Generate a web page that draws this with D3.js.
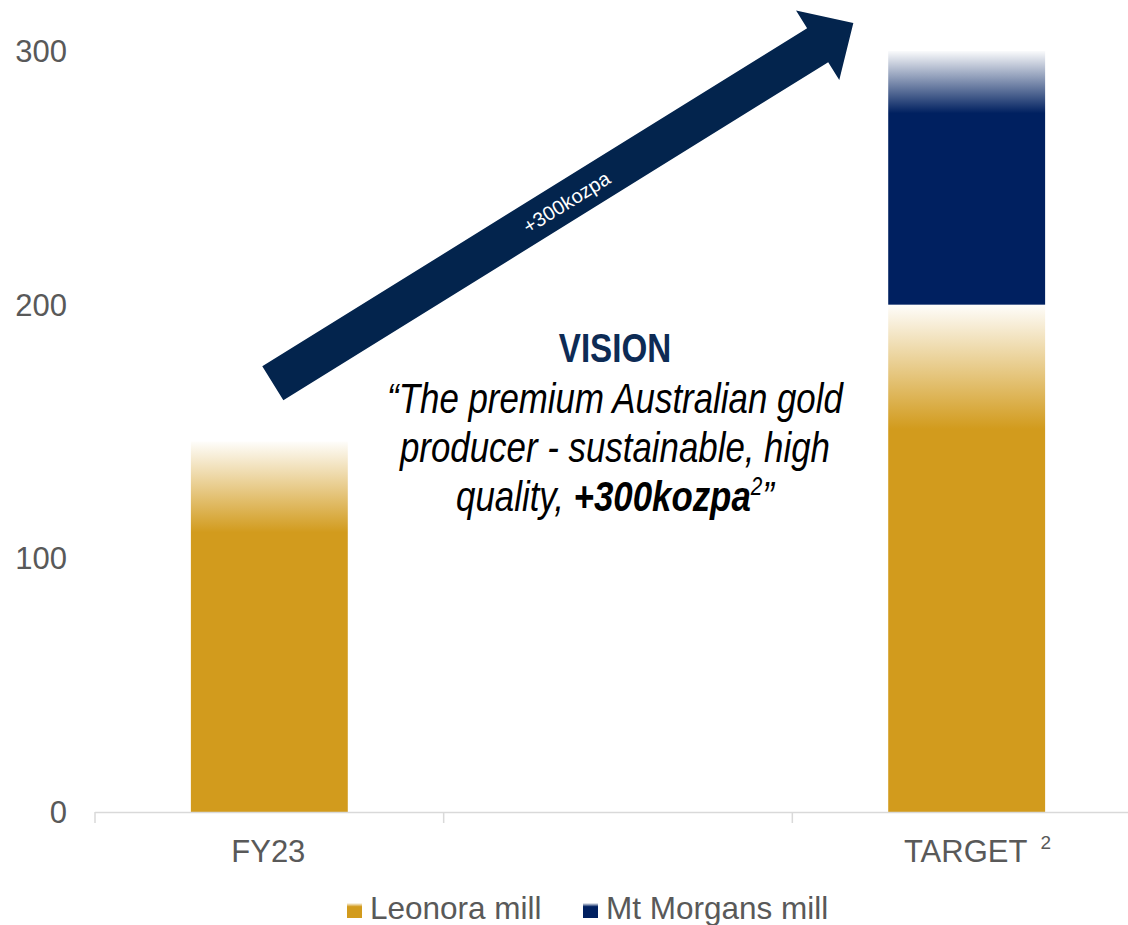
<!DOCTYPE html>
<html>
<head>
<meta charset="utf-8">
<script src="https://cdn.jsdelivr.net/npm/d3@7"></script>
<style>
  html, body { margin: 0; padding: 0; background: #fff; }
  svg { display: block; font-family: "Liberation Sans", Arial, sans-serif; }
</style>
</head>
<body>
<svg id="chart" width="1128" height="925"></svg>
<script>
// ---- data ----
const categories = ["FY23", "", "TARGET"];
const categoryNotes = ["", "", "2"];
const seriesNames = ["Leonora mill", "Mt Morgans mill"];
const leonora = [146, 0, 200];
const mtMorgans = [0, 0, 100];
const yTicks = [0, 100, 200, 300];
const seriesColors = ["#D29B1D", "#002060"];

// growth arrow annotation, anchored in data space
const arrowLabel = "+300kozpa";
const arrowFrom = { cat: "FY23", pos: 0.51, value: 169 };
const arrowTo = { cat: "TARGET", pos: 0.175, value: 311 };

// vision statement
const visionTitle = "VISION";
const visionLines = [
  [{ t: "\u201CThe premium Australian gold" }],
  [{ t: "producer - sustainable, high" }],
  [{ t: "quality, " }, { t: "+300kozpa", bold: true }, { t: "2", sup: true }, { t: "\u201D" }]
];

// ---- layout ----
const plot = { left: 95, right: 1141, top: 51, bottom: 812 };
const svg = d3.select("#chart");

const x = d3.scaleBand().domain(categories).range([plot.left, plot.right]).padding(0);
const y = d3.scaleLinear().domain([0, 300]).range([plot.bottom, plot.top]);
const barFrac = 0.45;
const barW = x.bandwidth() * barFrac;
const labelSize = 31;
const labelColor = "#595959";

// ---- gradients: each segment fades to white at the top ----
const defs = svg.append("defs");
seriesColors.forEach((c, i) => {
  const g = defs.append("linearGradient")
    .attr("id", "fade" + i)
    .attr("x1", 0).attr("y1", 0).attr("x2", 0).attr("y2", 1);
  g.append("stop").attr("offset", 0).attr("stop-color", c).attr("stop-opacity", 0.02);
  g.append("stop").attr("offset", 0.245).attr("stop-color", c).attr("stop-opacity", 1);
  g.append("stop").attr("offset", 1).attr("stop-color", c).attr("stop-opacity", 1);
});

// ---- stacked bars ----
const rows = categories.map((c, i) => ({ cat: c, "Leonora mill": leonora[i], "Mt Morgans mill": mtMorgans[i] }));
const stacked = d3.stack().keys(seriesNames)(rows);

svg.append("g").selectAll("g")
  .data(stacked)
  .join("g")
  .attr("fill", (d, i) => `url(#fade${i})`)
  .selectAll("rect")
  .data(d => d.filter(s => s[1] - s[0] > 0))
  .join("rect")
  .attr("x", d => x(d.data.cat) + (x.bandwidth() - barW) / 2)
  .attr("width", barW)
  .attr("y", d => y(d[1]))
  .attr("height", d => y(d[0]) - y(d[1]));

// ---- y axis labels (no axis line) ----
svg.append("g").selectAll("text")
  .data(yTicks)
  .join("text")
  .attr("x", 67)
  .attr("y", d => y(d))
  .attr("dy", "0.36em")
  .attr("text-anchor", "end")
  .attr("font-size", labelSize)
  .attr("fill", labelColor)
  .text(d => d);

// ---- x axis ----
const axisG = svg.append("g");
axisG.append("line")
  .attr("x1", plot.left).attr("x2", plot.right)
  .attr("y1", y(0) + 0.5).attr("y2", y(0) + 0.5)
  .attr("stroke", "#d9d9d9").attr("stroke-width", 1.5);
const tickXs = categories.map(c => x(c)).concat([plot.right]);
axisG.selectAll("line.tick")
  .data(tickXs)
  .join("line")
  .attr("class", "tick")
  .attr("x1", d => d).attr("x2", d => d)
  .attr("y1", y(0)).attr("y2", y(0) + 11)
  .attr("stroke", "#d9d9d9").attr("stroke-width", 1.5);

const catX = d => x(d) + x.bandwidth() / 2 - 1;
const xl = axisG.selectAll("text.cat")
  .data(categories)
  .join("text")
  .attr("class", "cat")
  .attr("x", catX)
  .attr("y", y(0) + 50)
  .attr("text-anchor", "middle")
  .attr("font-size", labelSize)
  .attr("fill", labelColor)
  .text(d => d);
// footnote markers beside the category labels
xl.each(function (d, i) {
  if (!categoryNotes[i]) return;
  const w = this.getComputedTextLength();
  axisG.append("text")
    .attr("x", catX(d) + w / 2 + 13)
    .attr("y", y(0) + 37)
    .attr("font-size", 19)
    .attr("fill", labelColor)
    .text(categoryNotes[i]);
});

// ---- growth arrow ----
const P0 = [x(arrowFrom.cat) + x.bandwidth() * arrowFrom.pos, y(arrowFrom.value)];
const P1 = [x(arrowTo.cat) + x.bandwidth() * arrowTo.pos, y(arrowTo.value)];
const dx = P1[0] - P0[0], dy = P1[1] - P0[1];
const len = Math.hypot(dx, dy);
const u = [dx / len, dy / len];
const n = [-u[1], u[0]];
const shaftHalf = 20, headHalf = 41, headLen = 42;
const pt = (a, b) => [P0[0] + u[0] * a + n[0] * b, P0[1] + u[1] * a + n[1] * b];
const arrowPts = [
  pt(0, -shaftHalf), pt(len - headLen, -shaftHalf), pt(len - headLen, -headHalf),
  pt(len, 0),
  pt(len - headLen, headHalf), pt(len - headLen, shaftHalf), pt(0, shaftHalf)
];
svg.append("path")
  .attr("d", d3.line()(arrowPts) + "Z")
  .attr("fill", "#03244D");

const angle = Math.atan2(dy, dx) * 180 / Math.PI;
const lp = pt(len * 0.505, 1);
svg.append("text")
  .attr("transform", `translate(${lp[0]},${lp[1]}) rotate(${angle})`)
  .attr("text-anchor", "middle")
  .attr("dy", "0.35em")
  .attr("font-size", 20)
  .attr("fill", "#ffffff")
  .text(arrowLabel);

// ---- vision statement (condensed type) ----
const vx = x("") + x.bandwidth() / 2 - 3;
const condense = 0.83;
svg.append("text")
  .attr("transform", `translate(${vx},362) scale(${condense},1)`)
  .attr("text-anchor", "middle")
  .attr("font-weight", "bold")
  .attr("font-size", 40)
  .attr("fill", "#0D2B55")
  .text(visionTitle);

visionLines.forEach((parts, i) => {
  const t = svg.append("text")
    .attr("transform", `translate(${vx},${413 + i * 49}) scale(${condense},1)`)
    .attr("text-anchor", "middle")
    .attr("font-style", "italic")
    .attr("font-size", 42)
    .attr("fill", "#000");
  let raised = false;
  parts.forEach(p => {
    const s = t.append("tspan").text(p.t);
    if (p.bold) s.attr("font-weight", "bold");
    if (p.sup) { s.attr("font-size", 25).attr("dy", -16); raised = true; }
    else if (raised) { s.attr("dy", 16); raised = false; }
  });
});

// ---- legend ----
const legendItems = [
  { name: seriesNames[0], i: 0, x: 347 },
  { name: seriesNames[1], i: 1, x: 583 }
];
const lg = svg.append("g").selectAll("g").data(legendItems).join("g");
lg.append("rect")
  .attr("x", d => d.x).attr("y", 903)
  .attr("width", 15).attr("height", 15)
  .attr("fill", d => `url(#fade${d.i})`);
lg.append("text")
  .attr("x", d => d.x + 23).attr("y", 919)
  .attr("font-size", 31.5)
  .attr("fill", labelColor)
  .text(d => d.name);
</script>
</body>
</html>
